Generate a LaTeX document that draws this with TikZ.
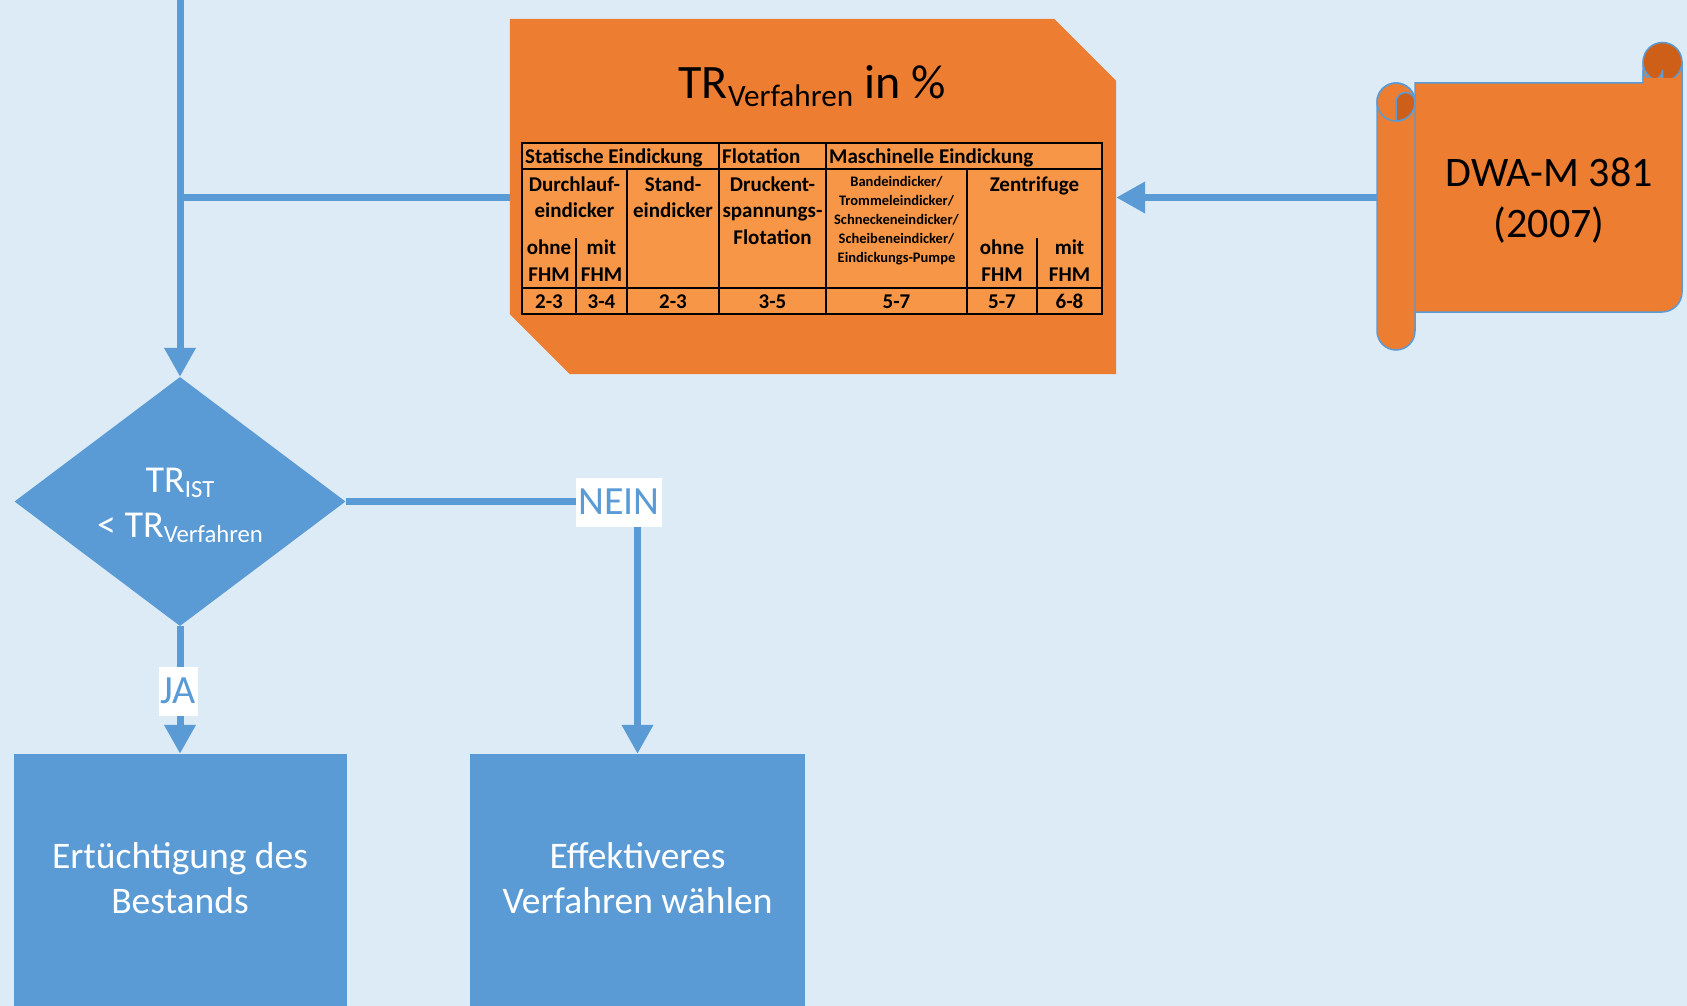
\documentclass[tikz,border=0pt]{standalone}
\usepackage{fontspec}
\setmainfont{Carlito}
\usetikzlibrary{arrows.meta,shapes.geometric}
\definecolor{bgblue}{RGB}{221,235,247}
\definecolor{lblue}{RGB}{91,155,213}
\definecolor{orng}{RGB}{237,125,49}
\definecolor{torng}{RGB}{247,150,70}
\definecolor{dorng}{RGB}{205,95,25}
\newcommand{\subtx}[1]{\raisebox{-0.15em}{\scalebox{0.65}{#1}}}
\newcommand{\fsz}[2]{\fontsize{#1}{#2}\selectfont}
\begin{document}
\begin{tikzpicture}[x=1pt,y=-1pt,
  conn/.style={draw=lblue,line width=7pt},
  arr/.style={conn,-{Triangle[width=30pt,length=29pt]}},
  bluebox/.style={rectangle,fill=lblue,inner sep=0pt},
  boxtxt/.style={text=white,anchor=base,inner sep=0pt,font=\fsz{37.5}{44}},
  dtxt/.style={text=white,anchor=base,inner sep=0pt,font=\fsz{38}{45}},
  lbl/.style={fill=white,text=lblue,inner xsep=2pt,inner ysep=0pt,minimum height=49pt,font=\fsz{40}{48}},
  hdr/.style={font=\bfseries\fsz{21}{26},anchor=base west,inner sep=0pt},
  cell/.style={font=\bfseries\fsz{21}{26},anchor=base,inner sep=0pt},
  small/.style={font=\bfseries\fsz{14.5}{19},anchor=base,inner sep=0pt},
  tl/.style={draw=black,line width=1.3pt},
  scrl/.style={draw=lblue,line width=1.5pt},
]
\fill[bgblue] (0,0) rectangle (1687,1006);
\useasboundingbox (0,0) rectangle (1687,1006);

% ---------- nodes ----------
\coordinate (top) at (180,0);
\coordinate (j) at (180,197);
\node[minimum width=606pt, minimum height=355pt, inner sep=0pt] (box) at (813,196.5) {};
\node[minimum width=305pt, minimum height=305pt, inner sep=0pt] (ref) at (1529.5,197.5) {};
\node[diamond, fill=lblue, minimum width=331pt, minimum height=249pt, inner sep=0pt] (dec) at (180,501.5) {};
\node[bluebox, minimum width=333pt, minimum height=252pt] (b1) at (180,880) {};
\node[bluebox, minimum width=335pt, minimum height=252pt] (b2) at (637.5,880) {};
\coordinate (nc) at (b2.north |- dec.east);

% ---------- connectors ----------
\draw[arr] (top) -- (dec.north);
\draw[conn] (j) -- (box.west |- j);
\draw[arr] (ref.west) -- (box.east |- ref.west);
\draw[arr] (dec.east) -- (nc) -- (b2.north);
\draw[arr] (dec.south) -- (b1.north);
\node[lbl] (nein) at (619,502) {NEIN};
\node[lbl] (ja) at (178.5,691) {JA};

% ---------- orange box ----------
\fill[orng] (box.north west) -- ([xshift=-62pt]box.north east) -- ([yshift=-62pt]box.north east)
  -- (box.south east) -- ([xshift=60pt]box.south west) -- ([yshift=60pt]box.south west) -- cycle;
\node[anchor=base, inner sep=0pt, font=\fsz{48}{54}] (title) at (812,99) {TR\subtx{Verfahren} in \%};

% table
\fill[torng] (522,143) rectangle (1102,314);
\draw[tl] (522,169) -- (1102,169);
\draw[tl] (522,288) -- (1102,288);
\draw[tl] (719,143) -- (719,314);
\draw[tl] (826,143) -- (826,314);
\draw[tl] (627,169) -- (627,314);
\draw[tl] (967,169) -- (967,314);
\draw[tl] (576,238) -- (576,314);
\draw[tl] (1037,238) -- (1037,314);
\draw[draw=black,line width=2pt] (522,143) rectangle (1102,314);

\node[hdr] (h1) at (525,164) {Statische Eindickung};
\node[hdr] (h2) at (722,164) {Flotation};
\node[hdr] (h3) at (829,164) {Maschinelle Eindickung};

\node[cell] (r1a) at (574.5,191) {Durchlauf-};
\node[cell] (r1b) at (574.5,217) {eindicker};
\node[cell] (r2a) at (673,191) {Stand-};
\node[cell] (r2b) at (673,217) {eindicker};
\node[cell] (r3a) at (772.5,191) {Druckent-};
\node[cell] (r3b) at (772.5,217) {spannungs-};
\node[cell] (r3c) at (772.5,244) {Flotation};
\node[small] (s1) at (896.5,186) {Bandeindicker/};
\node[small] (s2) at (896.5,205) {Trommeleindicker/};
\node[small] (s3) at (896.5,224) {Schneckeneindicker/};
\node[small] (s4) at (896.5,243) {Scheibeneindicker/};
\node[small] (s5) at (896.5,262) {Eindickungs-Pumpe};
\node[cell] (r6) at (1034.5,191) {Zentrifuge};
\node[cell] (o1) at (549,254) {ohne};
\node[cell] (f1) at (549,281) {FHM};
\node[cell] (m1) at (601.5,254) {mit};
\node[cell] (f2) at (601.5,281) {FHM};
\node[cell] (o2) at (1002,254) {ohne};
\node[cell] (f3) at (1002,281) {FHM};
\node[cell] (m2) at (1069.5,254) {mit};
\node[cell] (f4) at (1069.5,281) {FHM};

\node[cell] (v1) at (549,308) {2-3};
\node[cell] (v2) at (601.5,308) {3-4};
\node[cell] (v3) at (673,308) {2-3};
\node[cell] (v4) at (772.5,308) {3-5};
\node[cell] (v5) at (896.5,308) {5-7};
\node[cell] (v6) at (1002,308) {5-7};
\node[cell] (v7) at (1069.5,308) {6-8};

% ---------- scroll ----------
\filldraw[fill=orng, scrl] (1415,83) -- (1643,83) -- (1643,62) -- (1682,62) -- (1682,292)
  arc[start angle=0, end angle=-90, radius=20pt] -- (1415,312) -- cycle;
\filldraw[fill=dorng, scrl] (1662.5,62) circle[radius=19.5pt];
\filldraw[fill=orng, scrl] (1643,83) -- (1643,70) arc[start angle=180, end angle=360, radius=9.75pt] -- (1662.5,83);
\fill[orng] (1644,78) rectangle (1681,83.8);
\filldraw[fill=orng, scrl, rounded corners=19pt] (1377,83) rectangle (1415,350);
\draw[scrl] (1396,102) circle[radius=19pt];
\filldraw[fill=dorng, scrl] (1396,121) -- (1396,102) arc[start angle=180, end angle=0, radius=9.5pt]
  arc[start angle=0, end angle=-90, radius=19pt] -- cycle;
\node[anchor=base, inner sep=0pt, font=\fsz{42}{51}] (d1) at (1549,186) {DWA-M 381};
\node[anchor=base, inner sep=0pt, font=\fsz{42}{51}] (d2) at (1549,237) {(2007)};

% ---------- texts in blue shapes ----------
\node[dtxt] (dt1) at (180,492) {TR\subtx{IST}};
\node[dtxt] (dt2) at (180,537) {< TR\subtx{Verfahren}};
\node[boxtxt] (bt1) at (180,868) {Ertüchtigung des};
\node[boxtxt] (bt2) at (180,913) {Bestands};
\node[boxtxt] (bt3) at (637.5,868) {Effektiveres};
\node[boxtxt] (bt4) at (637.5,913) {Verfahren wählen};
\end{tikzpicture}
\end{document}
